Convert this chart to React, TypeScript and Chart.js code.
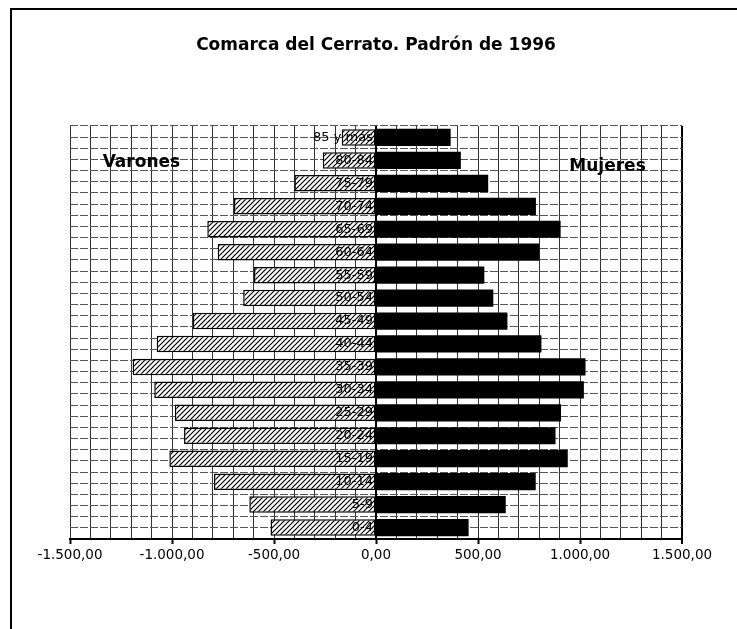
import React, { useEffect, useRef } from "react";
import { Chart, registerables } from "chart.js";

Chart.register(...registerables);

const ageGroups = [
  "0-4", "5-9", "10-14", "15-19", "20-24", "25-29", "30-34", "35-39", "40-44",
  "45-49", "50-54", "55-59", "60-64", "65-69", "70-74", "75-79", "80-84", "85 y más",
];
const varones = [517, 621, 794, 1013, 941, 986, 1087, 1193, 1075, 898, 651, 598, 776, 827, 696, 400, 261, 168];
const mujeres = [454, 636, 783, 940, 880, 907, 1019, 1027, 811, 644, 575, 531, 801, 905, 784, 550, 416, 366];
const titleText = "Comarca del Cerrato. Padrón de 1996";
const sideLabels = ["Varones", "Mujeres"];
const seriesNames = ["Varones", "Mujeres"];

function formatEs(v: number): string {
  const neg = v < 0;
  const a = Math.abs(Math.round(v));
  const s = String(a).replace(/\B(?=(\d{3})+(?!\d))/g, ".");
  return (neg ? "-" : "") + s + ",00";
}

function makeHatch(): CanvasPattern | string {
  const c = document.createElement("canvas");
  c.width = 5;
  c.height = 5;
  const g = c.getContext("2d");
  if (!g) return "#fff";
  g.fillStyle = "#fff";
  g.fillRect(0, 0, 5, 5);
  g.strokeStyle = "#000";
  g.lineWidth = 1.2;
  g.beginPath();
  g.moveTo(-1, 6);
  g.lineTo(6, -1);
  g.moveTo(-2, 2);
  g.lineTo(2, -2);
  g.moveTo(3, 7);
  g.lineTo(7, 3);
  g.stroke();
  return g.createPattern(c, "repeat") || "#fff";
}

const decorPlugin = {
  id: "decor",
  afterDatasetsDraw(chart: any) {
    const { ctx } = chart;
    const xs = chart.scales.x;
    const x0 = xs.getPixelForValue(0);
    ctx.save();
    ctx.strokeStyle = "#000";
    ctx.lineWidth = 2;
    ctx.beginPath();
    ctx.moveTo(x0, chart.chartArea.top);
    ctx.lineTo(x0, chart.chartArea.bottom);
    ctx.stroke();
    ctx.restore();
  },
  afterDraw(chart: any) {
    const { ctx } = chart;
    ctx.save();
    ctx.strokeStyle = "#000";
    ctx.lineWidth = 2;
    ctx.beginPath();
    ctx.moveTo(10, 9);
    ctx.lineTo(737, 9);
    ctx.moveTo(11, 9);
    ctx.lineTo(11, 629);
    ctx.stroke();
    const xs = chart.scales.x;
    const ys = chart.scales.y;
    ctx.font = 'bold 17px "DejaVu Sans"';
    ctx.fillStyle = "#000";
    ctx.textAlign = "center";
    ctx.textBaseline = "middle";
    ctx.fillText(sideLabels[0], xs.getPixelForValue(-1150), ys.getPixelForValue(16) + 2);
    ctx.fillText(sideLabels[1], xs.getPixelForValue(1135), ys.getPixelForValue(16) + 6);
    ctx.restore();
  },
};

export default function App() {
  const ref = useRef<HTMLCanvasElement | null>(null);
  useEffect(() => {
    if (!ref.current) return;
    Chart.defaults.font.family = '"DejaVu Sans"';
    const hatch = makeHatch();
    const chart = new Chart(ref.current, {
      type: "bar",
      data: {
        labels: ageGroups,
        datasets: [
          {
            label: seriesNames[0],
            data: varones.map((v) => -v),
            backgroundColor: hatch as any,
            borderColor: "#000",
            borderWidth: 1.5,
            borderSkipped: false,
            barPercentage: 0.72,
            categoryPercentage: 1,
            xAxisID: "x",
            yAxisID: "y",
          },
          {
            label: seriesNames[1],
            data: mujeres,
            backgroundColor: "#000",
            borderColor: "#000",
            borderWidth: 0,
            barPercentage: 0.75,
            categoryPercentage: 1,
            xAxisID: "x",
            yAxisID: "y",
          },
        ],
      },
      options: {
        indexAxis: "y",
        responsive: false,
        animation: false,
        layout: { padding: { left: 70, right: 55, top: 0, bottom: 0 } },
        plugins: {
          legend: { display: false },
          tooltip: { enabled: false },
          title: {
            display: true,
            text: titleText,
            color: "#000",
            font: { family: '"DejaVu Sans"', size: 17, weight: "bold", lineHeight: 1.2 },
            padding: { top: 35, bottom: 70.6 },
          },
        },
        scales: {
          x: {
            type: "linear",
            position: "bottom",
            min: -1500,
            max: 1500,
            stacked: true,
            afterFit: (s: any) => {
              s.height = 90;
            },
            ticks: {
              stepSize: 100,
              autoSkip: false,
              maxRotation: 0,
              color: "#000",
              padding: 3,
              font: { size: 13.5 },
              callback: (v: any) => (Math.round(Number(v)) % 500 === 0 ? formatEs(Number(v)) : ""),
            },
            grid: {
              color: (c: any) => (c.tick && c.tick.value === 1500 ? "#000" : "#333"),
              lineWidth: (c: any) => (c.tick && c.tick.value === 1500 ? 2 : 1),
              tickLength: 5,
              tickColor: (c: any) =>
                c.tick && Math.round(c.tick.value) % 500 === 0 ? "#000" : "rgba(0,0,0,0)",
              tickWidth: 2,
            },
            border: { display: true, color: "#000", width: 2 },
          },
          yGrid: {
            axis: "y",
            type: "linear",
            position: "left",
            min: 0,
            max: 36,
            ticks: { display: false, stepSize: 1 },
            grid: { color: "#555", lineWidth: 1, drawTicks: false },
            border: { display: false, dash: [8, 2] },
          },
          y: {
            type: "category",
            position: { x: -15 } as any,
            reverse: true,
            stacked: true,
            grid: { display: false },
            border: { display: false },
            ticks: { color: "#000", font: { size: 13 }, padding: 3, z: 1, autoSkip: false },
          },
        },
      },
      plugins: [decorPlugin],
    } as any);
    return () => chart.destroy();
  }, []);
  return (
    <div style={{ position: "absolute", left: 0, top: 0, width: 737, height: 629, background: "#fff" }}>
      <canvas ref={ref} width={737} height={629} />
    </div>
  );
}
